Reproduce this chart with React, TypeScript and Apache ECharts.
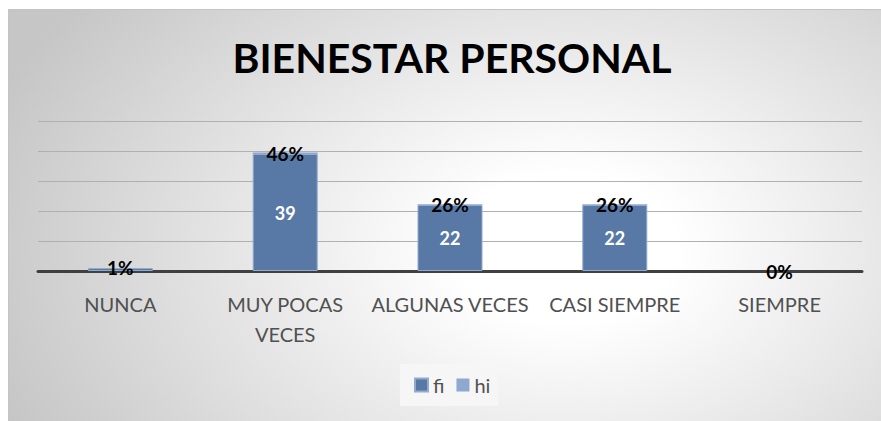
import React, { useEffect, useRef } from 'react';
import * as echarts from 'echarts';

const categories = ['NUNCA', 'MUY POCAS VECES', 'ALGUNAS VECES', 'CASI SIEMPRE', 'SIEMPRE'];
const fiValues = [1, 39, 22, 22, 0];
const hiValues = [0.01, 0.46, 0.26, 0.26, 0.0];
const yMin = 0;
const yMax = 50;
const yInterval = 10;
const seriesNames = ['fi', 'hi'];
const titleText = 'BIENESTAR PERSONAL';

const FONT = 'Lato, "Open Sans", sans-serif';

export default function App() {
  const ref = useRef<HTMLDivElement>(null);
  useEffect(() => {
    document.body.style.overflow = 'hidden';
    const chart = echarts.init(ref.current!, null, { renderer: 'svg' });
    chart.setOption({
      animation: false,
      backgroundColor: 'transparent',
      title: {
        text: titleText,
        left: 443,
        top: 27,
        padding: 0,
        textAlign: 'center',
        textStyle: { fontFamily: FONT, fontSize: 41, fontWeight: 'bold', color: '#000000' },
      },
      legend: {
        data: seriesNames,
        left: 391,
        top: 354,
        backgroundColor: '#f6f6f6',
        padding: [11, 8, 11, 14],
        itemWidth: 13,
        itemHeight: 13,
        itemGap: 12,
        icon: 'rect',
        textStyle: { fontFamily: FONT, fontSize: 20, color: '#505050' },
      },
      grid: { left: 29, right: 19, top: 111, bottom: 150, containLabel: false },
      xAxis: {
        type: 'category',
        data: categories,
        offset: 1.5,
        axisLine: { show: true, lineStyle: { color: '#404040', width: 3 } },
        axisTick: { show: false },
        axisLabel: {
          margin: 16,
          fontFamily: FONT,
          fontSize: 20,
          color: '#505050',
          lineHeight: 30,
          interval: 0,
          formatter: (v: string) => (v === 'MUY POCAS VECES' ? 'MUY POCAS\nVECES' : v),
        },
      },
      yAxis: {
        type: 'value',
        min: yMin,
        max: yMax,
        interval: yInterval,
        axisLine: { show: false },
        axisTick: { show: false },
        axisLabel: { show: false },
        splitLine: { show: true, lineStyle: { color: '#b0b0b0', width: 1 } },
      },
      series: [
        {
          name: seriesNames[0],
          type: 'bar',
          stack: 'total',
          barWidth: 65,
          data: fiValues.map((v) => ({
            value: v,
            itemStyle: v === 0 ? { borderWidth: 0 } : undefined,
          })),
          itemStyle: { color: '#5879a5', borderColor: '#92aacd', borderWidth: 1 },
          label: {
            show: true,
            position: 'inside',
            fontFamily: FONT,
            fontSize: 18,
            fontWeight: 'bold',
            color: '#ffffff',
            formatter: (p: any) => (p.value >= 5 ? String(p.value) : ''),
          },
        },
        {
          name: seriesNames[1],
          type: 'bar',
          stack: 'total',
          barWidth: 65,
          data: hiValues,
          itemStyle: { color: '#8ea8cf', borderWidth: 0 },
          label: {
            show: true,
            position: 'inside',
            fontFamily: FONT,
            fontSize: 19,
            fontWeight: 'bold',
            color: '#000000',
            formatter: (p: any) => Math.round(p.value * 100) + '%',
          },
        },
      ],
    });
    return () => chart.dispose();
  }, []);
  return (
    <div
      style={{
        position: 'absolute',
        left: 8,
        top: 9,
        width: 873,
        height: 412,
        boxSizing: 'border-box',
        borderTop: '1px solid #c4c4c4',
        borderLeft: '1px solid #c4c4c4',
        background:
          'radial-gradient(ellipse 70% 100% at 64% 58%, #ffffff 0%, #ffffff 18%, #c6c6c6 100%)',
      }}
    >
      <div ref={ref} style={{ width: '100%', height: '100%' }} />
    </div>
  );
}
